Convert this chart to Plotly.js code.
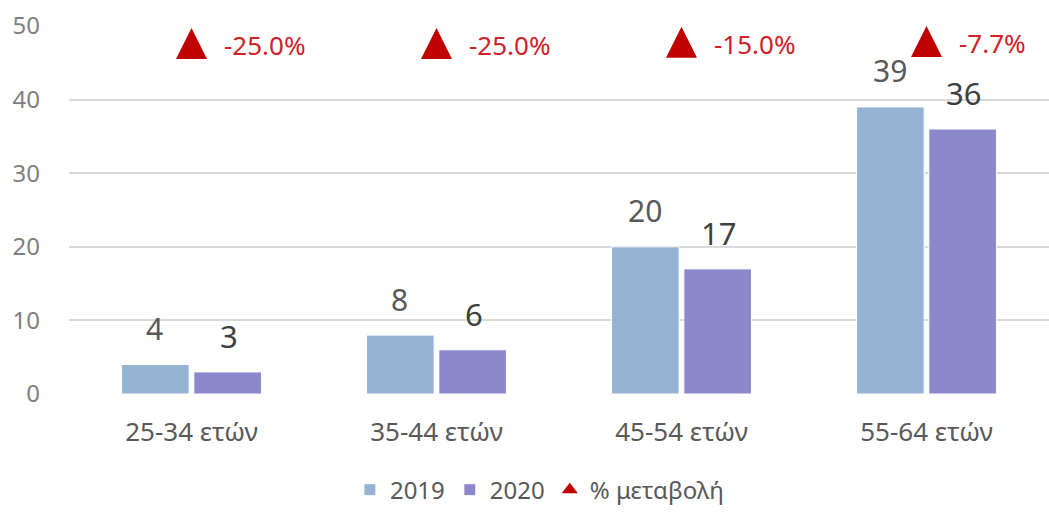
<!DOCTYPE html>
<html><head><meta charset="utf-8">
<script src="https://cdn.plot.ly/plotly-3.0.1.min.js"></script>
<style>body{margin:0;background:#fff}#chart{width:1049px;height:514px}</style>
</head><body><div id="chart"></div>
<script>
const categories = ["25-34 ετών", "35-44 ετών", "45-54 ετών", "55-64 ετών"];
const values2019 = [4, 8, 20, 39];
const values2020 = [3, 6, 17, 36];
const pctChange = [-25.0, -25.0, -15.0, -7.7];
const yTicks = [0, 10, 20, 30, 40, 50];

const FONT = "Noto Sans, Open Sans, sans-serif";
const RED = "#C00000";

const traces = [
  {type: "bar", name: "2019", x: categories, y: values2019,
   marker: {color: "#95B3D3", line: {color: "#ffffff", width: 1}}, hoverinfo: "none"},
  {type: "bar", name: "2020", x: categories, y: values2020,
   marker: {color: "#8B88CB", line: {color: "#ffffff", width: 1}}, hoverinfo: "none"},
  {type: "scatter", mode: "markers", name: "% μεταβολή", x: categories, y: pctChange,
   yaxis: "y2", showlegend: false, legendgroup: "pct",
   marker: {symbol: "arrow-up", size: 31, color: RED, line: {width: 0}},
   cliponaxis: false, hoverinfo: "none"},
  // legend entry for the % change series (centred triangle symbol)
  {type: "scatter", mode: "markers", name: "% μεταβολή", x: [null], y: [null],
   yaxis: "y2", legendgroup: "pct",
   marker: {symbol: "triangle-up", size: 14, color: RED, line: {width: 0}}, hoverinfo: "none"}
];

const annotations = [];
categories.forEach((c, i) => {
  annotations.push({x: c, y: values2019[i], xref: "x", yref: "y", text: String(values2019[i]),
    showarrow: false, xshift: -37, yshift: 36, font: {family: FONT, size: 30, color: "#595959"}});
  annotations.push({x: c, y: values2020[i], xref: "x", yref: "y", text: String(values2020[i]),
    showarrow: false, xshift: 37, yshift: 36, font: {family: FONT, size: 31, color: "#3F3F3F"}});
  annotations.push({x: c, y: pctChange[i], xref: "x", yref: "y2",
    text: pctChange[i].toFixed(1) + "%", showarrow: false, xanchor: "left",
    xshift: 30, yshift: -17, font: {family: FONT, size: 26, color: "#D0202A"}});
});

const layout = {
  width: 1049, height: 514,
  margin: {l: 69, r: 0, t: 26, b: 120},
  paper_bgcolor: "#fff", plot_bgcolor: "#fff",
  barmode: "group", bargap: 0.41, bargroupgap: 0.065,
  font: {family: FONT, color: "#595959"},
  xaxis: {type: "category", showgrid: false, zeroline: false, showline: false,
    ticks: "", tickfont: {family: FONT, size: 26, color: "#595959"}, ticklabelstandoff: 20},
  yaxis: {range: [0, 50], tickvals: yTicks, showgrid: true, gridcolor: "#D9D9D9", gridwidth: 2,
    zeroline: false, showline: false, ticks: "", ticklabelstandoff: 28,
    tickfont: {family: FONT, size: 24, color: "#7F7F7F"}},
  yaxis2: {overlaying: "y", side: "right", range: [-3190, -7.7], visible: false,
    showgrid: false, zeroline: false},
  showlegend: true,
  legend: {orientation: "h", x: 0.48, xanchor: "center", y: -0.2, yanchor: "top",
    font: {family: FONT, size: 24, color: "#595959"}, itemwidth: 30, traceorder: "normal"},
  annotations: annotations
};

Plotly.newPlot("chart", traces, layout, {displayModeBar: false, staticPlot: true});
</script></body></html>
